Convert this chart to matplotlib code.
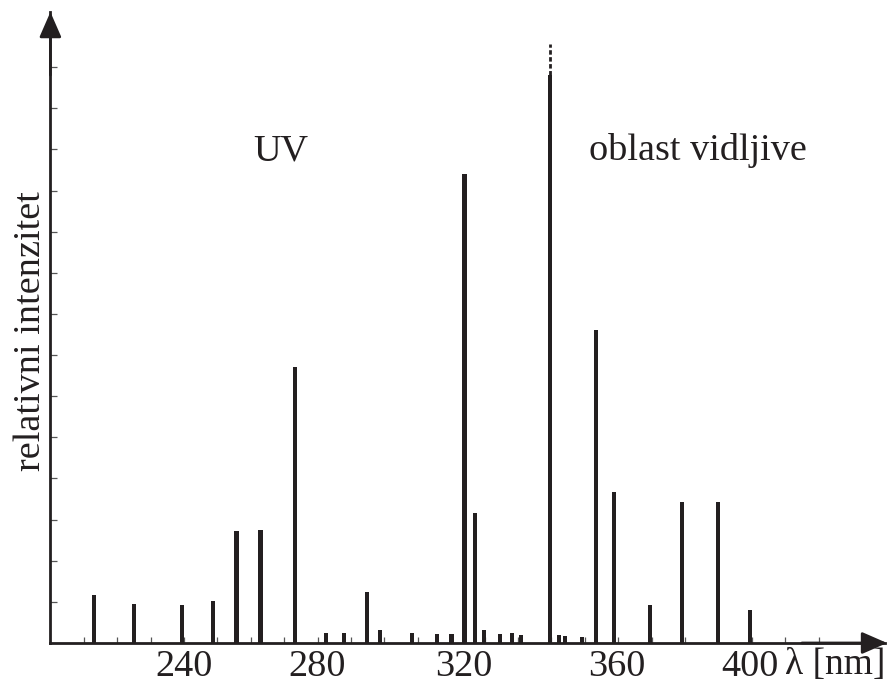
import numpy as np
import matplotlib
matplotlib.use("Agg")
import matplotlib.pyplot as plt
from matplotlib.transforms import ScaledTranslation

plt.rcParams['font.family'] = ['Liberation Serif', 'DejaVu Serif']

INK = "#231f20"

# line positions (nm) and relative intensities
wavelengths = [213.0, 225.0, 239.5, 248.7, 255.7, 262.9, 273.3, 282.5, 287.9,
               294.9, 298.8, 308.3, 315.7, 320.1, 324.0, 327.1, 329.8, 334.6,
               338.2, 340.9, 349.5, 352.3, 354.1, 359.2, 363.4, 368.7, 379.6,
               389.1, 399.9, 409.4]
intensity = [1.17, 0.95, 0.92, 1.03, 2.72, 2.75, 6.71, 0.24, 0.24,
             1.25, 0.32, 0.24, 0.23, 0.23, 11.4, 3.16, 0.32, 0.23,
             0.24, 0.20, 13.8, 0.20, 0.17, 0.15, 7.6, 3.67, 0.92,
             3.43, 3.43, 0.80]
# the strongest line goes off scale (dashed continuation)
offscale_top = 14.55

xtick_minor = list(range(210, 431, 10))
xtick_major = [240, 280, 320, 360, 400]
xtick_labels = ["240", "280", "320", "360", "400"]
ytick_pos = list(range(1, 15))

FS = 27.5

fig = plt.figure(figsize=(8.91, 6.84), dpi=100)
ax = fig.add_axes([50.4 / 891, 41 / 684, 835 / 891, 631 / 684])

ax.bar(wavelengths, intensity, width=1.25, color=INK, zorder=3)
imax = int(np.argmax(intensity))
ax.plot([wavelengths[imax], wavelengths[imax]], [intensity[imax], offscale_top],
        color=INK, lw=2.0, linestyle=(0, (1.6, 0.9)), zorder=3)

ax.set_xlim(200, 450)
ax.set_ylim(0, 15.34)

for s in ["top", "right"]:
    ax.spines[s].set_visible(False)
for s in ["left", "bottom"]:
    ax.spines[s].set_linewidth(2.0)
    ax.spines[s].set_color(INK)

ax.set_xticks(xtick_minor, minor=True)
ax.set_xticks(xtick_major)
ax.set_xticklabels(xtick_labels)
ax.set_yticks(ytick_pos)
ax.set_yticklabels([])
ax.tick_params(axis="x", which="both", direction="in", length=4.5, width=0.9,
               color="#555555", labelsize=FS, labelcolor=INK, pad=5)
ax.tick_params(axis="y", direction="in", length=5, width=0.9, color="#555555")

# tick labels sit a bit to the right of their ticks in the original drawing
label_shift_px = [0, 0, 13, 32, 32]
for lab, dx in zip(ax.get_xticklabels(), label_shift_px):
    lab.set_transform(lab.get_transform() + ScaledTranslation(dx / 100, 0, fig.dpi_scale_trans))

# arrow heads on the axes
ax.annotate("", xy=(0, 1), xytext=(0, 0.9), xycoords="axes fraction",
            arrowprops=dict(arrowstyle="-|>,head_length=0.55,head_width=0.24",
                            mutation_scale=28, color=INK, lw=2.0, shrinkA=0, shrinkB=0))
ax.annotate("", xy=(1.002, 0), xytext=(0.9, 0), xycoords="axes fraction",
            arrowprops=dict(arrowstyle="-|>,head_length=0.55,head_width=0.24",
                            mutation_scale=28, color=INK, lw=2.0, shrinkA=0, shrinkB=0))
for a in ax.texts:
    a.set_clip_on(False)

ax.text(269.0, 11.74, "UV", fontsize=FS, color=INK, ha="center", va="baseline")
ax.text(393.9, 11.74, "oblast vidljive", fontsize=FS, color=INK, ha="center", va="baseline")
fig.text(835 / 891, 10 / 684, "λ [nm]", fontsize=27, color=INK, ha="center", va="baseline")
fig.text(31 / 891, 1 - 331 / 684, "relativni intenzitet", fontsize=FS, color=INK,
         rotation=90, ha="center", va="center")

fig.savefig("out.png", dpi=100)
